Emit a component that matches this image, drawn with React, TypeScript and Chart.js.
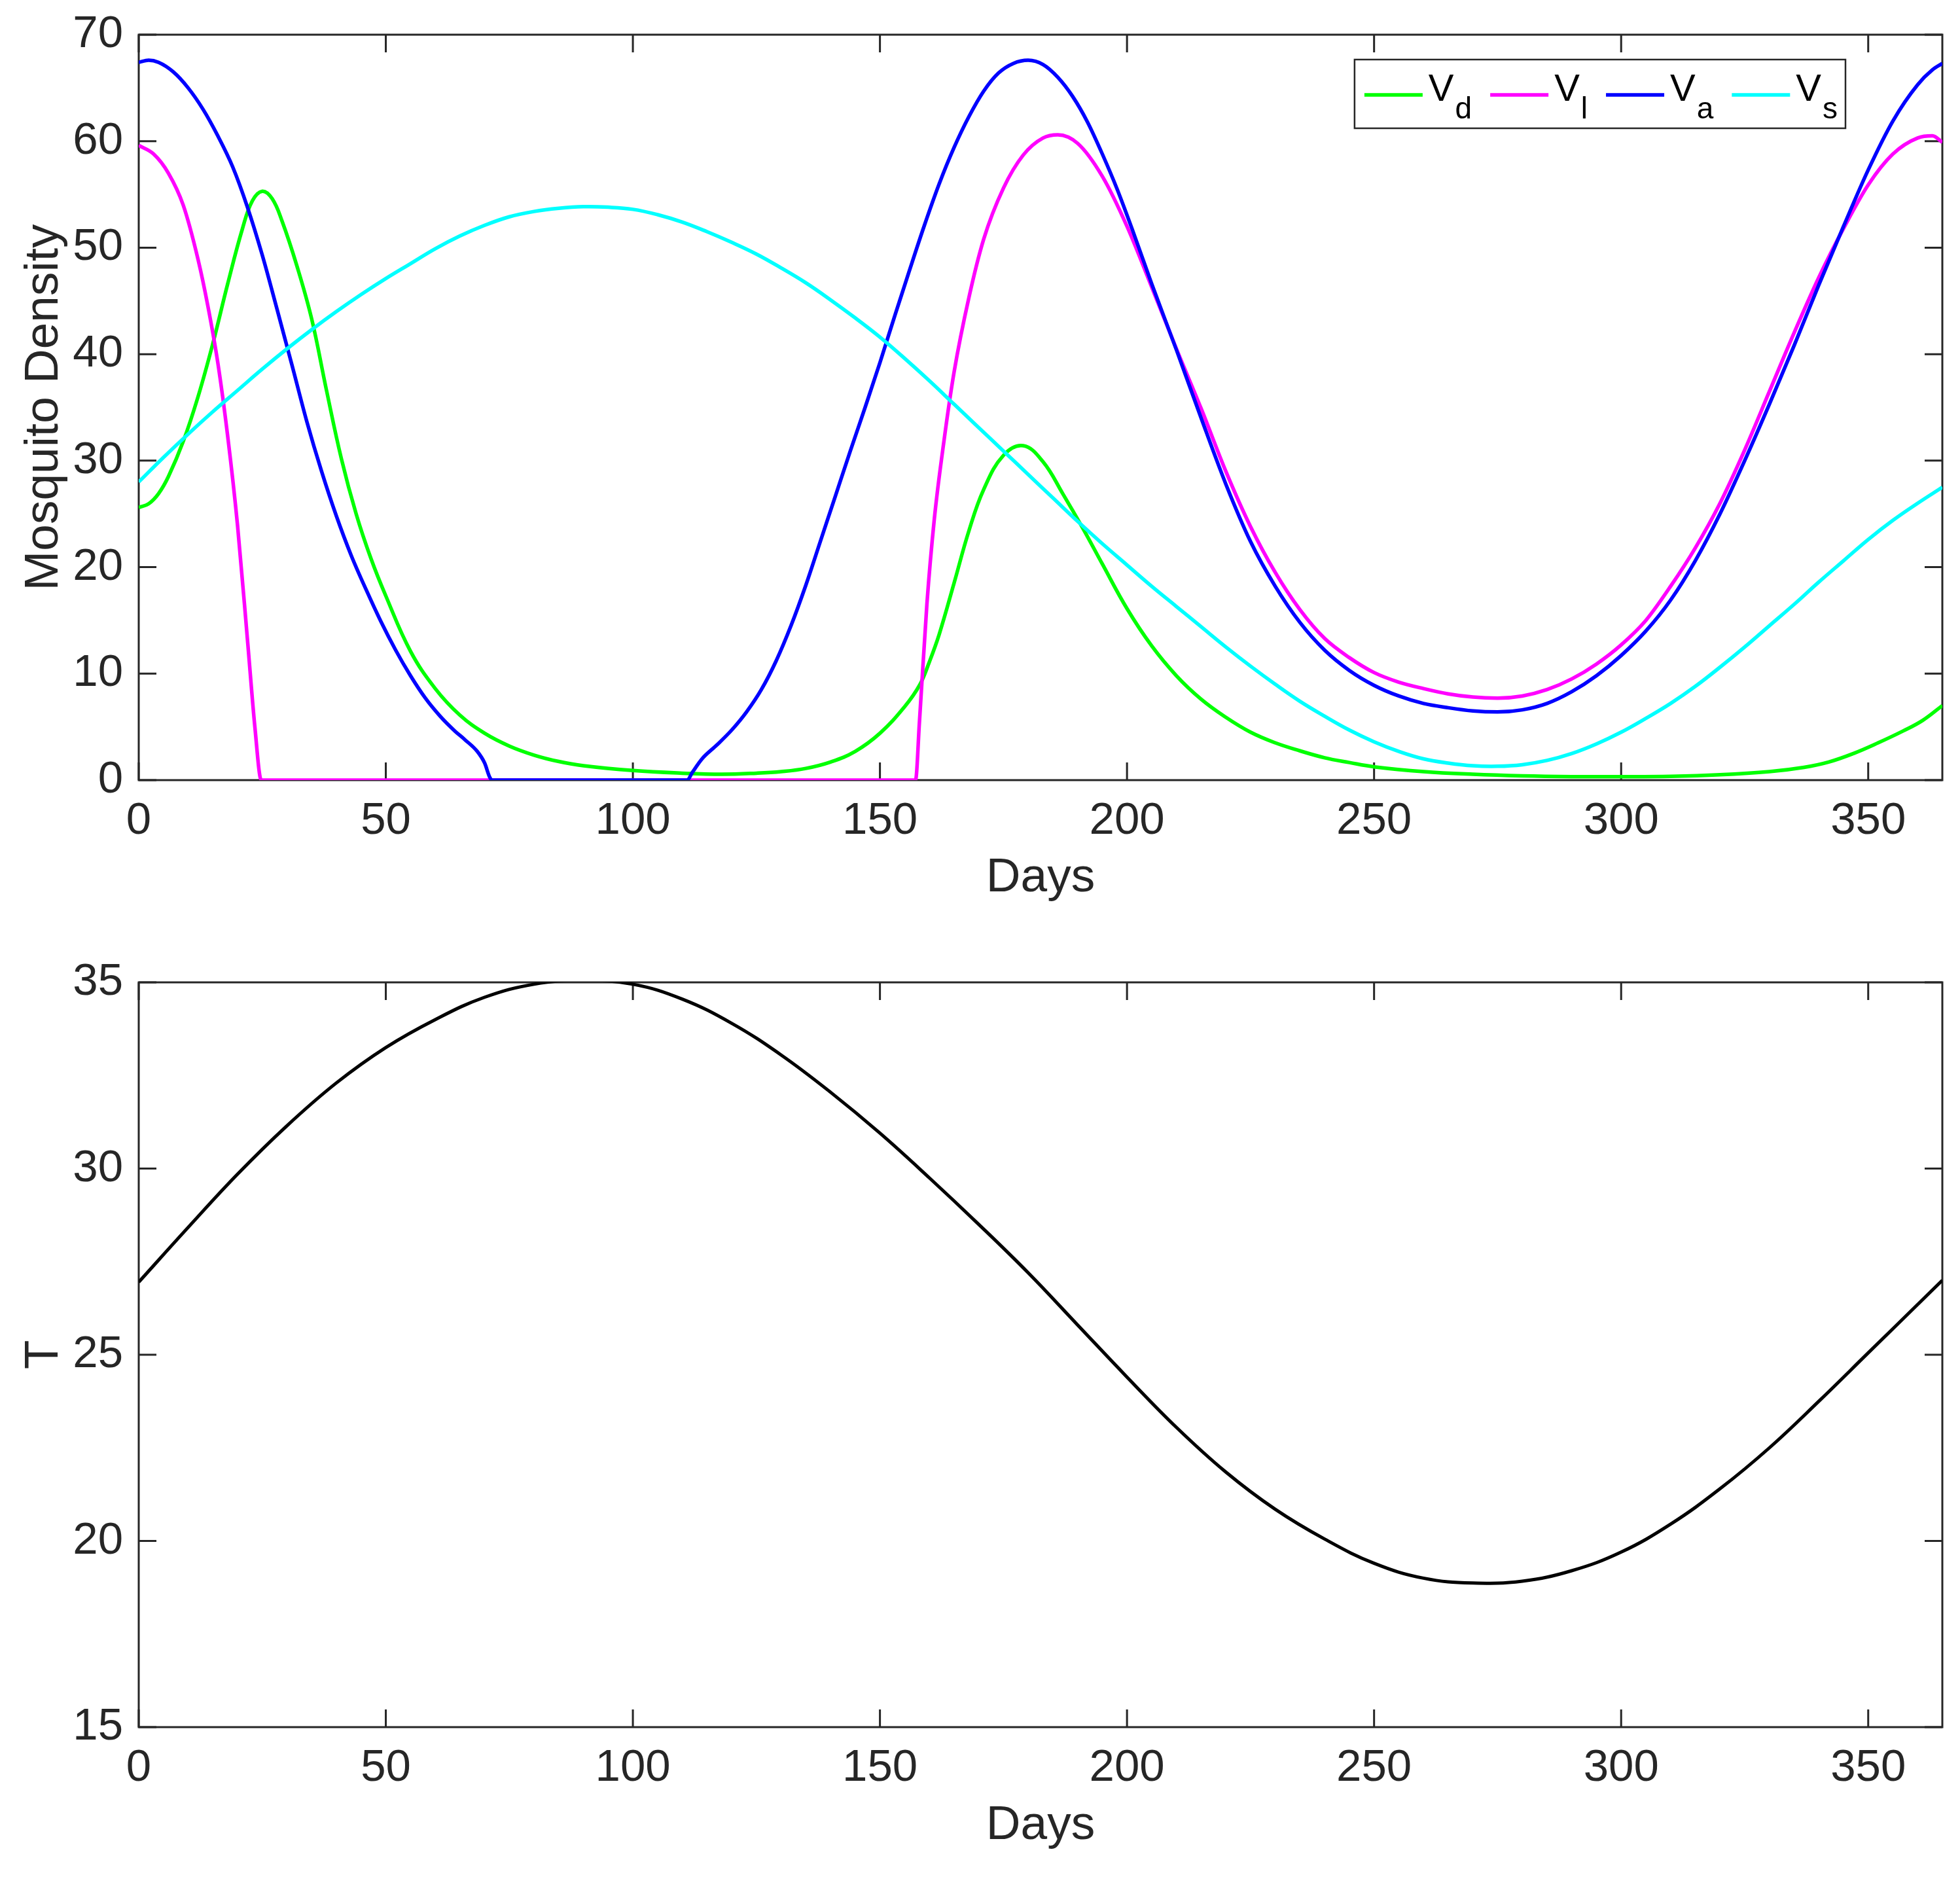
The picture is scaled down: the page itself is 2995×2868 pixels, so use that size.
import React, { useEffect, useRef } from 'react';
import { Chart, registerables } from 'chart.js';

Chart.register(...registerables);

const FONT = "'Liberation Sans', Arial, Helvetica, sans-serif";
const INK = '#262626';

// tick labels
const dayTicks = [0, 50, 100, 150, 200, 250, 300, 350];
const densityTicks = [0, 10, 20, 30, 40, 50, 60, 70];
const tempTicks = [15, 20, 25, 30, 35];

// legend
const seriesNames = ['V', 'V', 'V', 'V'];
const seriesSubs = ['d', 'l', 'a', 's'];
const seriesColors = ['#00ff00', '#ff00ff', '#0000ff', '#00ffff'];

// V_d
const vdDays = [0, 2, 4, 6, 9, 12, 15, 18, 21, 23, 25, 27, 29, 32, 35, 38, 41, 44, 47, 50, 55, 60, 65, 70, 75, 80, 85, 90, 100, 110, 118, 125, 130, 135, 140, 145, 150, 155, 158, 160, 162, 165, 168, 171, 175, 179, 183, 187, 191, 195, 200, 205, 210, 215, 220, 225, 230, 235, 240, 245, 250, 260, 270, 280, 290, 300, 310, 320, 330, 337, 342, 347, 352, 357, 361, 365];
const vdVals = [25.6, 25.95, 26.9, 28.5, 31.8, 36.0, 41.0, 46.6, 51.8, 54.4, 55.3, 54.6, 52.5, 48.3, 43.3, 36.6, 30.2, 25.0, 20.8, 17.3, 12.1, 8.6, 6.1, 4.4, 3.2, 2.35, 1.75, 1.35, 0.9, 0.65, 0.55, 0.65, 0.8, 1.1, 1.7, 2.7, 4.4, 6.9, 8.9, 11.1, 13.7, 18.5, 23.4, 27.3, 30.5, 31.4, 29.9, 26.9, 23.7, 20.3, 16.1, 12.6, 9.8, 7.6, 5.9, 4.5, 3.5, 2.75, 2.1, 1.65, 1.25, 0.8, 0.55, 0.4, 0.33, 0.32, 0.35, 0.5, 0.8, 1.2, 1.7, 2.5, 3.5, 4.6, 5.6, 7.0];

// V_l
const vlDays = [0, 3, 6, 9, 12, 14, 16, 18, 20, 22, 23.5, 24.8, 157.2, 158, 159.5, 161, 163, 165, 168, 171, 175, 179, 183, 186, 190, 195, 200, 205, 210, 215, 220, 225, 230, 235, 240, 245, 250, 255, 260, 265, 270, 275, 280, 285, 290, 295, 300, 305, 310, 315, 320, 325, 330, 335, 340, 345, 350, 355, 360, 363, 365];
const vlVals = [59.6, 58.8, 57.0, 54.0, 48.9, 44.5, 39.2, 32.3, 23.9, 13.2, 5.0, 0, 0, 5.5, 16.5, 24.5, 32.0, 38.3, 45.3, 50.8, 55.6, 58.7, 60.3, 60.6, 59.8, 56.7, 52.0, 46.3, 40.5, 34.9, 29.0, 23.8, 19.5, 16.0, 13.3, 11.5, 10.1, 9.2, 8.6, 8.1, 7.8, 7.7, 7.9, 8.5, 9.5, 10.9, 12.7, 15.0, 18.2, 21.8, 26.0, 31.0, 36.5, 42.0, 47.2, 51.8, 55.9, 58.8, 60.3, 60.5, 59.9];

// V_a
const vaDays = [0, 2, 4, 7, 10, 13, 16, 19, 22, 25, 28, 31, 34, 37, 40, 43, 46, 49, 52, 55, 58, 61, 64, 66, 68.5, 70, 71, 71.5, 111, 112, 114, 117, 120, 123, 126, 129, 132, 135, 138, 141, 144, 147, 150, 153, 156, 159, 162, 165, 168, 171, 174, 177, 180, 183, 186, 189, 192, 195, 198, 201, 205, 210, 215, 220, 225, 230, 235, 240, 245, 250, 255, 260, 265, 270, 275, 280, 285, 290, 295, 300, 305, 310, 315, 320, 325, 330, 335, 340, 345, 350, 355, 360, 363, 365];
const vaVals = [67.4, 67.6, 67.4, 66.5, 65.0, 63.0, 60.5, 57.6, 53.8, 49.3, 44.2, 39.0, 33.7, 29.0, 24.8, 21.1, 17.9, 14.9, 12.2, 9.8, 7.7, 6.0, 4.6, 3.8, 2.7, 1.6, 0.3, 0, 0, 0.7, 2.0, 3.3, 4.7, 6.4, 8.5, 11.2, 14.5, 18.3, 22.5, 26.7, 30.9, 35.0, 39.2, 43.6, 47.9, 52.1, 56.0, 59.4, 62.3, 64.7, 66.4, 67.3, 67.6, 67.2, 66.0, 64.2, 61.8, 58.8, 55.5, 51.8, 46.6, 40.4, 34.0, 27.8, 22.4, 18.2, 14.8, 12.2, 10.3, 8.9, 7.9, 7.2, 6.8, 6.5, 6.4, 6.6, 7.2, 8.3, 9.8, 11.7, 14.0, 16.9, 20.6, 25.0, 30.0, 35.3, 40.8, 46.5, 52.0, 57.3, 61.9, 65.3, 66.7, 67.3];

// V_s
const vsDays = [0, 5, 10, 15, 20, 25, 30, 35, 40, 45, 50, 55, 60, 65, 70, 75, 80, 85, 90, 95, 100, 105, 110, 115, 120, 125, 130, 135, 140, 145, 150, 155, 160, 165, 170, 175, 180, 185, 190, 195, 200, 205, 210, 215, 220, 225, 230, 235, 240, 245, 250, 255, 260, 265, 270, 275, 280, 285, 290, 295, 300, 305, 310, 315, 320, 325, 330, 335, 340, 345, 350, 355, 360, 365];
const vsVals = [28.0, 30.3, 32.5, 34.6, 36.6, 38.6, 40.5, 42.3, 44.0, 45.6, 47.1, 48.5, 49.9, 51.1, 52.1, 52.9, 53.4, 53.7, 53.85, 53.8, 53.6, 53.1, 52.4, 51.5, 50.5, 49.4, 48.1, 46.7, 45.1, 43.4, 41.6, 39.6, 37.5, 35.3, 33.1, 30.9, 28.7, 26.5, 24.3, 22.2, 20.2, 18.2, 16.3, 14.4, 12.5, 10.7, 9.0, 7.4, 6.0, 4.7, 3.6, 2.7, 2.0, 1.6, 1.35, 1.3, 1.45, 1.85, 2.5, 3.4, 4.5, 5.8, 7.2, 8.8, 10.6, 12.5, 14.5, 16.5, 18.6, 20.6, 22.6, 24.4, 26.0, 27.5];

// temperature
const tDays = [0, 10, 20, 30, 40, 50, 60, 70, 80, 90, 100, 110, 120, 130, 140, 150, 160, 170, 180, 190, 200, 210, 220, 230, 240, 250, 260, 270, 280, 290, 300, 310, 320, 330, 340, 350, 360, 365];
const tVals = [26.95, 28.42, 29.85, 31.15, 32.3, 33.25, 34.0, 34.6, 34.95, 35.05, 34.95, 34.55, 33.9, 33.05, 32.05, 30.95, 29.75, 28.5, 27.2, 25.8, 24.4, 23.05, 21.85, 20.85, 20.05, 19.4, 19.0, 18.87, 18.92, 19.2, 19.7, 20.45, 21.4, 22.5, 23.75, 25.05, 26.35, 27.0];

const PANEL_W = 2995;
const PANEL_H = 1434;

function pts(days: number[], vals: number[]) {
  return days.map((d, i) => ({ x: d, y: vals[i] }));
}

// box round the plot with inward ticks on all four sides
const boxPlugin = {
  id: 'matlabBox',
  beforeDatasetsDraw(chart: any) {
    const { ctx, chartArea } = chart;
    const { left, right, top, bottom } = chartArea;
    const len = 27;
    const xs = chart.scales.x;
    const ys = chart.scales.y;
    ctx.save();
    ctx.strokeStyle = INK;
    ctx.lineWidth = 3;
    ctx.beginPath();
    xs.ticks.forEach((t: any) => {
      const p = xs.getPixelForValue(t.value);
      ctx.moveTo(p, bottom);
      ctx.lineTo(p, bottom - len);
      ctx.moveTo(p, top);
      ctx.lineTo(p, top + len);
    });
    ys.ticks.forEach((t: any) => {
      const p = ys.getPixelForValue(t.value);
      ctx.moveTo(left, p);
      ctx.lineTo(left + len, p);
      ctx.moveTo(right, p);
      ctx.lineTo(right - len, p);
    });
    ctx.stroke();
    ctx.strokeRect(left, top, right - left, bottom - top);
    ctx.restore();
  },
};

// legend with subscripts
const subLegend = {
  id: 'subLegend',
  afterDraw(chart: any) {
    const { ctx, chartArea } = chart;
    const mainFont = `58px ${FONT}`;
    const subFont = `46px ${FONT}`;
    const lineLen = 89;
    const padL = 15;
    const padR = 12;
    const gap = 28;
    ctx.save();
    const sizes = seriesNames.map((n, i) => {
      ctx.font = mainFont;
      const a = ctx.measureText(n).width;
      ctx.font = subFont;
      const b = ctx.measureText(seriesSubs[i]).width;
      return { a, b };
    });
    let w = padL + padR + gap * (sizes.length - 1);
    sizes.forEach((s) => {
      w += lineLen + 9 + s.a + 2 + s.b;
    });
    const h = 105;
    const right = chartArea.right - 148;
    const top = chartArea.top + 38;
    const left = right - w;
    ctx.fillStyle = '#ffffff';
    ctx.fillRect(left, top, w, h);
    ctx.strokeStyle = INK;
    ctx.lineWidth = 2.5;
    ctx.strokeRect(left, top, w, h);
    let x = left + padL;
    ctx.textBaseline = 'alphabetic';
    ctx.textAlign = 'left';
    sizes.forEach((s, i) => {
      ctx.strokeStyle = seriesColors[i];
      ctx.lineWidth = 5.5;
      ctx.beginPath();
      ctx.moveTo(x, top + 54);
      ctx.lineTo(x + lineLen, top + 54);
      ctx.stroke();
      x += lineLen + 9;
      ctx.fillStyle = '#000000';
      ctx.font = mainFont;
      ctx.fillText(seriesNames[i], x, top + 63);
      x += s.a + 2;
      ctx.font = subFont;
      ctx.fillText(seriesSubs[i], x, top + 90);
      x += s.b + gap;
    });
    ctx.restore();
  },
};

interface PanelProps {
  which: 'density' | 'temp';
  offsetTop: number;
  areaTop: number;
  areaBottom: number;
  titlePad: number;
}

function Panel({ which, offsetTop, areaTop, areaBottom, titlePad }: PanelProps) {
  const canvasRef = useRef<HTMLCanvasElement>(null);

  useEffect(() => {
    if (!canvasRef.current) return;

    const line = (label: string, data: any[], color: string, width: number, order: number, monotone: boolean) => ({
      label,
      data,
      borderColor: color,
      backgroundColor: color,
      borderWidth: width,
      pointRadius: 0,
      fill: false,
      tension: 0.4,
      cubicInterpolationMode: monotone ? ('monotone' as const) : ('default' as const),
      order,
    });

    const datasets =
      which === 'density'
        ? [
            line('Vd', pts(vdDays, vdVals), seriesColors[0], 5.5, 4, false),
            line('Vl', pts(vlDays, vlVals), seriesColors[1], 5.5, 3, true),
            line('Va', pts(vaDays, vaVals), seriesColors[2], 5.5, 2, true),
            line('Vs', pts(vsDays, vsVals), seriesColors[3], 5.5, 1, false),
          ]
        : [line('T', pts(tDays, tVals), '#000000', 5, 1, false)];

    const yTicks = which === 'density' ? densityTicks : tempTicks;

    const chart = new Chart(canvasRef.current, {
      type: 'line',
      data: { datasets },
      options: {
        animation: false,
        responsive: true,
        maintainAspectRatio: false,
        events: [],
        layout: { padding: { top: areaTop, right: 27, left: 0, bottom: 0 } },
        plugins: { legend: { display: false }, tooltip: { enabled: false } },
        scales: {
          x: {
            type: 'linear',
            min: 0,
            max: 365,
            grid: { display: false, drawTicks: false },
            border: { display: false },
            ticks: { font: { family: FONT, size: 69 }, color: INK, padding: 22, maxRotation: 0, autoSkip: false },
            afterBuildTicks: (s: any) => {
              s.ticks = dayTicks.map((v) => ({ value: v }));
            },
            afterFit: (s: any) => {
              s.height = PANEL_H - areaBottom;
              s.paddingLeft = 0;
              s.paddingRight = 0;
            },
            title: {
              display: true,
              text: 'Days',
              font: { family: FONT, size: 73 },
              color: INK,
              padding: { top: 0, bottom: titlePad },
            },
          },
          y: {
            type: 'linear',
            min: which === 'density' ? 0 : 15,
            max: which === 'density' ? 70 : 35,
            grid: { display: false, drawTicks: false },
            border: { display: false },
            ticks: { font: { family: FONT, size: 69 }, color: INK, padding: 24 },
            afterBuildTicks: (s: any) => {
              s.ticks = yTicks.map((v) => ({ value: v }));
            },
            afterFit: (s: any) => {
              s.width = 212;
              s.paddingTop = 0;
              s.paddingBottom = 0;
            },
            title: {
              display: true,
              text: which === 'density' ? 'Mosquito Density' : 'T',
              font: { family: FONT, size: 73 },
              color: INK,
              padding: { top: 24, bottom: 0 },
            },
          },
        },
      },
      plugins: which === 'density' ? [boxPlugin, subLegend] : [boxPlugin],
    });

    return () => {
      chart.destroy();
    };
  }, [which, areaTop, areaBottom, titlePad]);

  return (
    <div style={{ position: 'absolute', left: 0, top: offsetTop, width: PANEL_W, height: PANEL_H }}>
      <canvas ref={canvasRef}></canvas>
    </div>
  );
}

export default function App() {
  return (
    <div style={{ position: 'absolute', left: 0, top: 0, width: PANEL_W, height: PANEL_H * 2, background: '#ffffff' }}>
      <Panel which="density" offsetTop={0} areaTop={53} areaBottom={1192} titlePad={48} />
      <Panel which="temp" offsetTop={PANEL_H} areaTop={67} areaBottom={1205} titlePad={34} />
    </div>
  );
}
